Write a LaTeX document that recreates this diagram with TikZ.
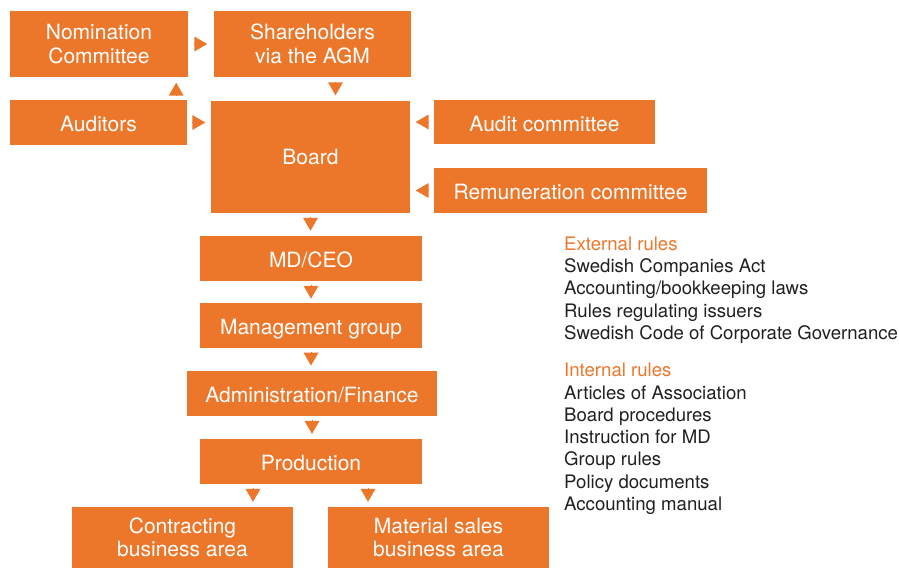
\documentclass[tikz,border=0pt]{standalone}
\usepackage{fontspec}
\setmainfont{TeX Gyre Heros}
\usetikzlibrary{arrows.meta}
\usetikzlibrary{positioning}
\definecolor{gorange}{HTML}{EC772B}
\definecolor{rulegray}{HTML}{231F20}

\tikzset{
  orgbox/.style={fill=gorange, text=white, inner sep=0pt, align=center,
    font=\fontsize{21}{23.5}\selectfont},
  oneline/.style={text height=18pt, text depth=0pt},
  tri/.style={-{Triangle[length=13pt,width=15pt]}, draw=gorange, line width=0pt,
    shorten >=#1, shorten <=#1},
  tri/.default=5.5pt,
  rulelist/.style={anchor=north west, inner sep=0pt, align=left, text=rulegray,
    font=\fontsize{18.6}{22.3}\selectfont}
}

\begin{document}
\begin{tikzpicture}[x=1pt, y=-1pt]

\useasboundingbox (0,0) rectangle (899,568);

% top row
\node [orgbox, minimum width=178pt, minimum height=66pt] (nom) at (99,44) {Nomination\\Committee};
\node [orgbox, minimum width=197pt, minimum height=66pt] (sha) at (312.5,44) {Shareholders\\via the AGM};

% board and the ones reporting to it
\node [orgbox, oneline, minimum width=177pt, minimum height=45pt] (aud) at (98.5,122.5) {Auditors};
\node [orgbox, minimum width=199pt, minimum height=112pt] (board) at (310.5,157) {Board};
\node [orgbox, oneline, minimum width=221pt, minimum height=44pt] (auc) at (544.5,122) {Audit committee};
\node [orgbox, oneline, minimum width=273pt, minimum height=45pt] (rem) at (570.5,190.5) {Remuneration committee};

% operating chain
\node [orgbox, oneline, minimum width=222pt, minimum height=45pt] (md) at (311,258.5) {MD/CEO};
\node [orgbox, oneline, minimum width=222pt, minimum height=44.5pt] (mgmt) at (311,325.7) {Management group};
\node [orgbox, oneline, minimum width=250pt, minimum height=45pt] (admin) at (312,393.3) {Administration/Finance};
\node [orgbox, oneline, minimum width=222pt, minimum height=45pt] (prod) at (311,461.5) {Production};
\node [orgbox, minimum width=221pt, minimum height=61pt] (con) at (182.5,537.5) {Contracting\\business area};
\node [orgbox, minimum width=221pt, minimum height=61pt] (mat) at (438.5,537.5) {Material sales\\business area};

% rules
\node [rulelist] (ext) at (564,236.5) {{\color{gorange}External rules}\\
  Swedish Companies Act\\
  Accounting/bookkeeping laws\\
  Rules regulating issuers\\
  Swedish Code of Corporate Governance};
\node [rulelist] (int) at (564,363) {{\color{gorange}Internal rules}\\
  Articles of Association\\
  Board procedures\\
  Instruction for MD\\
  Group rules\\
  Policy documents\\
  Accounting manual};

% triangles between the boxes
\draw [tri=6.5pt] (nom.east) -- (sha.west);
\draw [tri] ([xshift=-11pt]aud.north east) -- ([xshift=-11pt]aud.north east |- nom.south);
\draw [tri] (aud.east) -- (aud.east -| board.west);
\draw [tri] ([xshift=23pt]sha.south) -- ([xshift=23pt]sha.south |- board.north);
\draw [tri] (auc.west) -- (auc.west -| board.east);
\draw [tri] (rem.west) -- (rem.west -| board.east);
\draw [tri=5pt] (board.south) -- (board.south |- md.north);
\draw [tri=4.5pt] (md.south) -- (mgmt.north);
\draw [tri=5pt] (mgmt.south) -- (mgmt.south |- admin.north);
\draw [tri=5pt] (admin.south) -- (admin.south |- prod.north);
\draw [tri=5pt] ([xshift=-58pt]prod.south) -- ([xshift=-58pt]prod.south |- con.north);
\draw [tri=5pt] ([xshift=57pt]prod.south) -- ([xshift=57pt]prod.south |- mat.north);

\end{tikzpicture}
\end{document}
